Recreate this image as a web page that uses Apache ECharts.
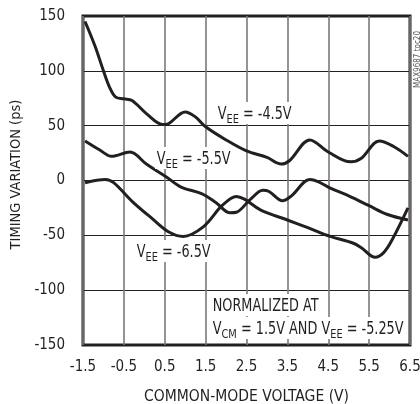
<!DOCTYPE html>
<html>
<head>
<meta charset="utf-8">
<script src="https://cdn.jsdelivr.net/npm/echarts@6/dist/echarts.min.js"></script>
<style>
html,body{margin:0;padding:0;background:#fff;}
#c{width:420px;height:404px;}
</style>
</head>
<body>
<div id="c"></div>
<script>
// Common-mode voltage (V) and timing variation (ps) for each VEE curve
const vcm45 = [-1.45,-1.2,-1.0,-0.85,-0.7,-0.5,-0.3,0.05,0.45,0.6,1.0,1.25,1.5,2.0,2.5,3.0,3.35,3.55,4.05,4.5,5.05,5.3,5.75,6.1,6.45];
const tv45  = [145,122,100,85,76,74.5,73,61,51,52,62.5,58,49,37,27,21,15,18,37,26,17,20,36,31,22];

const vcm55 = [-1.45,-1.1,-0.8,-0.35,0.05,0.55,0.9,1.4,1.75,2.1,2.25,2.6,2.9,3.05,3.38,3.6,4.05,4.25,4.55,5.0,5.5,5.95,6.45];
const tv55  = [36,28,22,26,15,3,-6,-12,-20,-29.5,-29,-17,-9,-10,-18.5,-14,1,-1,-7,-14,-23,-31,-36];

const vcm65 = [-1.45,-0.95,-0.75,-0.3,0.2,0.6,0.95,1.45,1.9,2.25,2.45,2.85,3.5,4.0,4.55,5.1,5.3,5.65,5.85,6.05,6.45];
const tv65  = [-2,1,-2,-19,-35,-47,-51,-42,-23,-14.5,-17,-27,-36,-43,-51,-57,-61,-70,-66,-55,-25];

const xTickLabels = ['-1.5','-0.5','0.5','1.5','2.5','3.5','4.5','5.5','6.5'];
const X0 = -1.5; // axis starts at -1.5 V

const FONT = '"Liberation Sans Narrow","DejaVu Sans Condensed","Arial Narrow",sans-serif';
const INK = '#231f20';

function pts(xs, ys){ return xs.map((x,i)=>[x - X0, ys[i]]); }

const chart = echarts.init(document.getElementById('c'), null, {renderer:'canvas'});

const subRich = {
  a:{fontFamily:FONT,fontSize:17,color:INK,lineHeight:20,verticalAlign:'bottom'},
  s:{fontFamily:FONT,fontSize:13,color:INK,lineHeight:14,verticalAlign:'bottom',padding:[0,0,-3,0]}
};

function lbl(x,y,text){
  return {
    type:'text', x:x, y:y, z:100, scaleX:0.84,
    style:{text:text, rich:subRich, fontFamily:FONT, fontSize:17, fill:INK,
      backgroundColor:'#fff', padding:[1,2,1,2]}
  };
}

chart.setOption({
  animation:false,
  backgroundColor:'#fff',
  grid:{left:83,right:10,top:16,bottom:59,containLabel:false,outerBoundsMode:'none',
    show:true,borderColor:INK,borderWidth:3,backgroundColor:'transparent'},
  xAxis:{
    type:'value', min:0, max:8, interval:1,
    name:'COMMON-MODE VOLTAGE (V)', nameLocation:'middle', nameGap:44,
    nameTextStyle:{fontFamily:FONT,fontSize:15.5,color:INK},
    axisLine:{show:false}, axisTick:{show:false},
    axisLabel:{fontFamily:FONT,fontSize:15,color:INK,margin:15,
      formatter:(v)=>xTickLabels[Math.round(v)]},
    splitLine:{show:true,lineStyle:{color:'#7a7a7a',width:1.6}}
  },
  yAxis:{
    type:'value', min:-150, max:150, interval:50,
    name:'TIMING VARIATION (ps)', nameLocation:'middle', nameGap:56,
    nameTextStyle:{fontFamily:FONT,fontSize:14.5,color:INK,padding:[0,0,0,12]},
    axisLine:{show:false}, axisTick:{show:false},
    axisLabel:{fontFamily:FONT,fontSize:15,color:INK,margin:18},
    splitLine:{show:true,lineStyle:{color:INK,width:1}}
  },
  series:[
    {name:'VEE = -4.5V',type:'line',data:pts(vcm45,tv45),smooth:0.35,showSymbol:false,lineStyle:{color:INK,width:3},z:5},
    {name:'VEE = -5.5V',type:'line',data:pts(vcm55,tv55),smooth:0.35,showSymbol:false,lineStyle:{color:INK,width:3},z:5},
    {name:'VEE = -6.5V',type:'line',data:pts(vcm65,tv65),smooth:0.35,showSymbol:false,lineStyle:{color:INK,width:3},z:5}
  ],
  graphic:[
    lbl(216,102,'{a|V}{s|EE}{a| = -4.5V}'),
    lbl(155,147,'{a|V}{s|EE}{a| = -5.5V}'),
    lbl(135,240,'{a|V}{s|EE}{a| = -6.5V}'),
    lbl(211,294,'{a|NORMALIZED AT}'),
    lbl(211,317,'{a|V}{s|CM}{a| = 1.5V AND V}{s|EE}{a| = -5.25V}'),
    {type:'text', x:414, y:88, rotation:Math.PI/2, z:100,
      style:{text:'MAX9687 toc20', fontFamily:FONT, fontSize:8, fill:'#555'}}
  ]
});
</script>
</body>
</html>
